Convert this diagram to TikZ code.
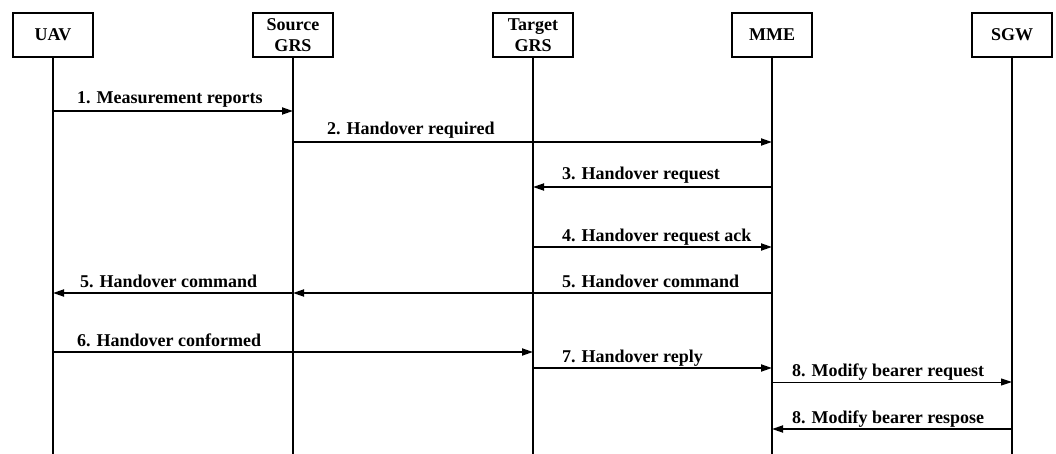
\documentclass[tikz,border=0pt]{standalone}
\usepackage{fontspec}
\setmainfont{Liberation Serif}
\usetikzlibrary{arrows.meta}
\begin{document}
\begin{tikzpicture}[x=1pt,y=-1pt,
  actor/.style={draw,line width=1.1pt,minimum width=80pt,minimum height=44pt,inner sep=0pt,align=center,font=\fontsize{18}{21}\selectfont\bfseries},
  life/.style={line width=1.6pt},
  msg/.style={line width=1.8pt,-{Triangle[length=11pt,width=7pt]}},
  thinmsg/.style={line width=1pt,-{Triangle[length=11pt,width=7pt]}},
  lbl/.style={anchor=base west,inner sep=0pt,font=\fontsize{18}{21}\selectfont\bfseries}]
\useasboundingbox (0,0) rectangle (1056,454);
\node[actor] (uav) at (53,35) {UAV};
\node[actor] (src) at (293,35) {Source\\GRS};
\node[actor] (tgt) at (533,35) {Target\\GRS};
\node[actor] (mme) at (772,35) {MME};
\node[actor] (sgw) at (1012,35) {SGW};
\coordinate (bot) at (0,454);
\foreach \n in {uav,src,tgt,mme,sgw}{\draw[life] (\n.south) -- (\n |- bot);}
% message rows
\coordinate (m1) at (0,111);
\coordinate (m2) at (0,142);
\coordinate (m3) at (0,187);
\coordinate (m4) at (0,247);
\coordinate (m5) at (0,293);
\coordinate (m6) at (0,352);
\coordinate (m7) at (0,368);
\coordinate (m8) at (0,382);
\coordinate (m9) at (0,429);
\draw[msg] (uav |- m1) -- (src |- m1);
\draw[msg] (src |- m2) -- (mme |- m2);
\draw[msg] (mme |- m3) -- (tgt |- m3);
\draw[msg] (tgt |- m4) -- (mme |- m4);
\draw[msg] (mme |- m5) -- (src |- m5);
\draw[msg] (src |- m5) -- (uav |- m5);
\draw[msg] (uav |- m6) -- (tgt |- m6);
\draw[msg] (tgt |- m7) -- (mme |- m7);
\draw[thinmsg] (mme |- m8) -- (sgw |- m8);
\draw[msg] (sgw |- m9) -- (mme |- m9);
% labels
\node[lbl] (l1) at (77,104) {1. Measurement reports};
\node[lbl] (l2) at (327,135) {2. Handover required};
\node[lbl] (l3) at (562,180) {3. Handover request};
\node[lbl] (l4) at (562,241) {4. Handover request ack};
\node[lbl] (l5a) at (80,287) {5. Handover command};
\node[lbl] (l5b) at (562,287) {5. Handover command};
\node[lbl] (l6) at (77,346) {6. Handover conformed};
\node[lbl] (l7) at (562,362) {7. Handover reply};
\node[lbl] (l8a) at (792,376) {8. Modify bearer request};
\node[lbl] (l8b) at (792,423) {8. Modify bearer respose};
\end{tikzpicture}
\end{document}
